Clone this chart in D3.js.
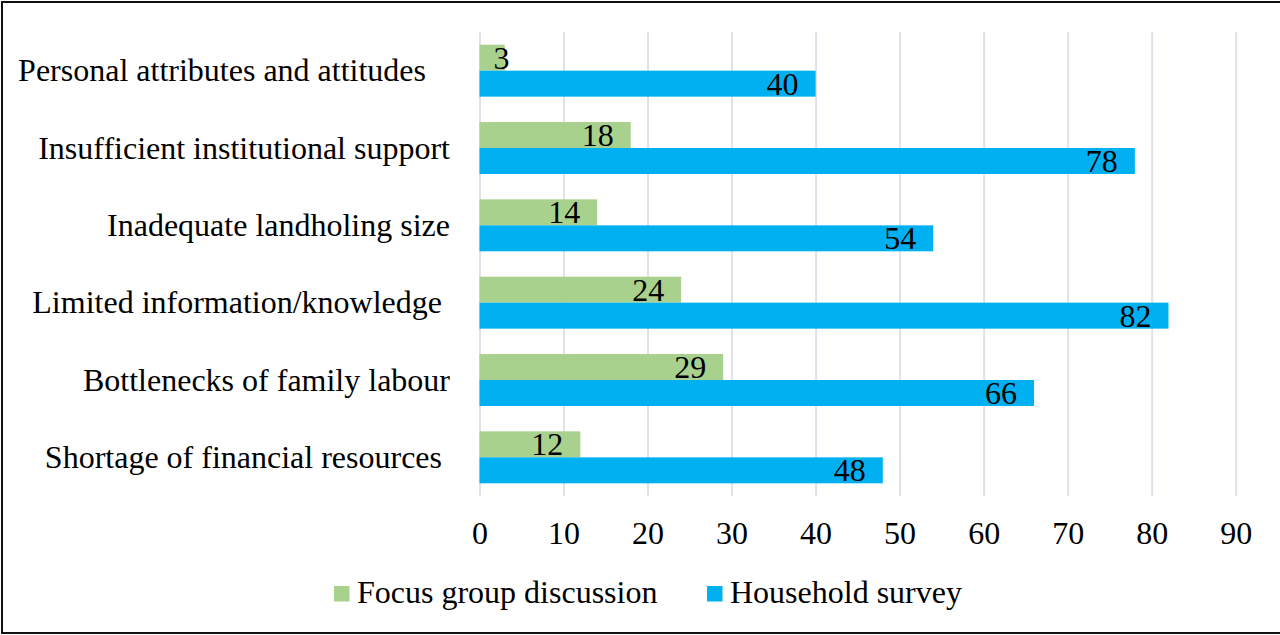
<!DOCTYPE html>
<html>
<head>
<meta charset="utf-8">
<script src="https://cdn.jsdelivr.net/npm/d3@7"></script>
<style>
  html, body { margin: 0; padding: 0; background: #fff; }
  svg { display: block; }
  text { font-family: "Liberation Serif", "Times New Roman", serif; fill: #000; }
</style>
</head>
<body>
<svg id="chart" width="1280" height="635"></svg>
<script>
// ---- data ----
const categories = [
  "Personal attributes and attitudes   ",
  "Insufficient institutional support",
  "Inadequate landholing size",
  "Limited information/knowledge ",
  "Bottlenecks of family labour",
  "Shortage of financial resources "
];
const seriesNames = ["Focus group discussion", "Household survey"];
const focusGroup = [3, 18, 14, 24, 29, 12];
const householdSurvey = [40, 78, 54, 82, 66, 48];
const xTicks = [0, 10, 20, 30, 40, 50, 60, 70, 80, 90];
const colors = ["#A9D18E", "#00B0F0"];

// ---- layout ----
const W = 1280, H = 635;
const plot = { left: 479.5, right: 1235.7, top: 32, bottom: 496 };
const fontSize = 32;

const svg = d3.select("#chart");

// frame
svg.append("rect")
  .attr("x", 2).attr("y", 2)
  .attr("width", W + 10).attr("height", 631)
  .attr("fill", "none").attr("stroke", "#111").attr("stroke-width", 2);

const x = d3.scaleLinear().domain([0, 90]).range([plot.left, plot.right]);
const y = d3.scaleBand().domain(categories).range([plot.top, plot.bottom])
  .paddingInner(0.328).paddingOuter(0.164);
const ySub = d3.scaleBand().domain(seriesNames).range([0, y.bandwidth()]);

// gridlines + tick labels
const xAxis = d3.axisBottom(x).tickValues(xTicks).tickSize(-(plot.bottom - plot.top)).tickPadding(0);
const gx = svg.append("g").attr("transform", `translate(0,${plot.bottom})`).call(xAxis);
gx.select(".domain").remove();
gx.selectAll(".tick line").attr("stroke", "#DEE2EA").attr("stroke-width", 2);
gx.selectAll(".tick text")
  .attr("y", 48).attr("dy", 0)
  .style("font-family", '"Liberation Serif", "Times New Roman", serif')
  .style("font-size", fontSize + "px").attr("fill", "#000");

// category labels
svg.append("g").selectAll("text").data(categories).join("text")
  .attr("x", 450)
  .attr("y", d => y(d) + y.bandwidth() / 2 + 10.5)
  .attr("text-anchor", "end")
  .style("white-space", "pre")
  .style("font-size", fontSize + "px")
  .text(d => d);

// bars
const rows = categories.map((c, i) => ({
  cat: c,
  vals: [
    { s: seriesNames[0], v: focusGroup[i], color: colors[0] },
    { s: seriesNames[1], v: householdSurvey[i], color: colors[1] }
  ]
}));

const rowG = svg.append("g").selectAll("g").data(rows).join("g")
  .attr("transform", d => `translate(0,${y(d.cat)})`);

rowG.selectAll("rect").data(d => d.vals).join("rect")
  .attr("x", x(0))
  .attr("y", d => ySub(d.s))
  .attr("width", d => x(d.v) - x(0))
  .attr("height", ySub.bandwidth())
  .attr("fill", d => d.color);

rowG.selectAll("text").data(d => d.vals).join("text")
  .attr("x", d => Math.max(x(d.v) - 17, x(0) + 30))
  .attr("y", d => ySub(d.s) + ySub.bandwidth() / 2 + 11)
  .attr("text-anchor", "end")
  .style("font-size", fontSize + "px")
  .text(d => d.v);

// legend
const legendItems = [
  { name: seriesNames[0], color: colors[0], sx: 334 },
  { name: seriesNames[1], color: colors[1], sx: 707 }
];
const lg = svg.append("g").selectAll("g").data(legendItems).join("g");
lg.append("rect")
  .attr("x", d => d.sx).attr("y", 586)
  .attr("width", 15.5).attr("height", 15.5)
  .attr("fill", d => d.color);
lg.append("text")
  .attr("x", d => d.sx + 23).attr("y", 603)
  .style("font-size", fontSize + "px")
  .text(d => d.name);
</script>
</body>
</html>
